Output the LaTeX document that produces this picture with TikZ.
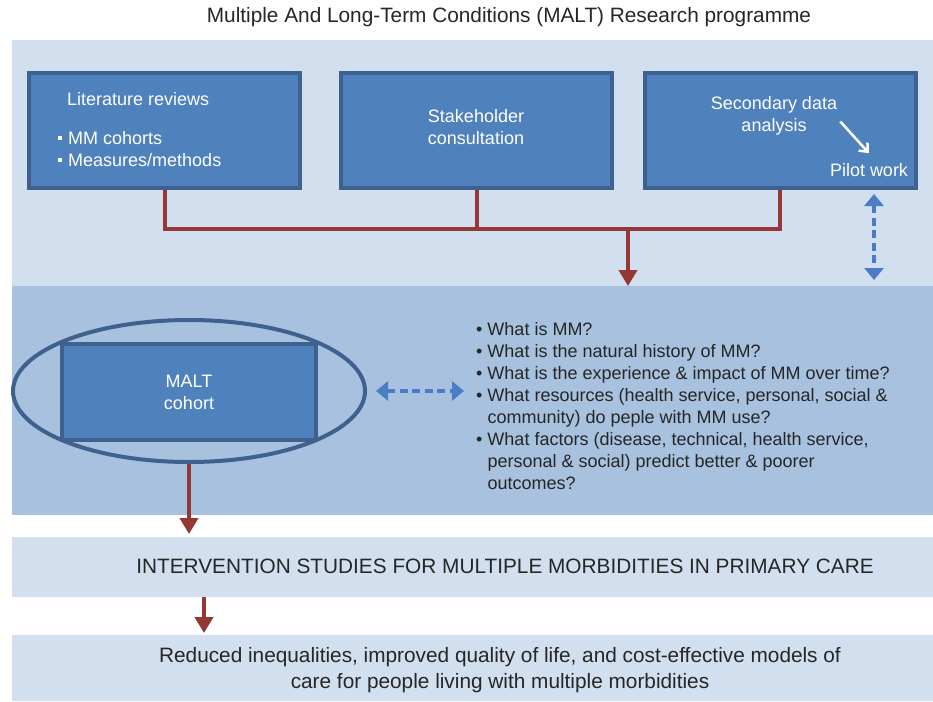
\documentclass[tikz,border=0pt]{standalone}
\usepackage{fontspec}
\setmainfont{Liberation Sans}
\usetikzlibrary{arrows.meta,positioning,shapes.geometric}
\definecolor{bandlight}{HTML}{D1DFEE}
\definecolor{bandmid}{HTML}{A8C1DE}
\definecolor{boxblue}{HTML}{4F81BD}
\definecolor{boxedge}{HTML}{3E6190}
\definecolor{linered}{HTML}{953735}
\definecolor{dashblue}{HTML}{4A7DC6}
\definecolor{inkgray}{HTML}{262626}
\newcommand{\sqbullet}{\raisebox{4pt}{\rule{4pt}{4pt}}\hspace{6pt}}
\tikzset{
    %Define standard font
    every node/.style={font=\fontsize{18}{22}\selectfont, text=inkgray},
    bigtext/.style={font=\fontsize{20.8}{26}\selectfont},
    %Define style for bands
    band/.style={
           rectangle,
           inner sep=0pt,
           minimum width=921pt,
           anchor=north west},
    %Define style for boxes
    box/.style={
           rectangle,
           fill=boxblue,
           draw=boxedge, line width=4pt,
           inner sep=0pt,
           minimum width=271pt,
           minimum height=115pt,
           text=white,
           align=center},
    %Define style for texts on boxes
    boxtext/.style={text=white, inner sep=0pt},
    % Define arrow styles
    redline/.style={draw=linered, line width=4pt},
    pil/.style={
           redline,
           -{Triangle[width=18pt,length=16pt]}},
    dashpil/.style={
           draw=dashblue,
           line width=4pt,
           dash pattern=on 8pt off 4.5pt,
           {Triangle[width=19pt,length=12pt]}-{Triangle[width=19pt,length=12pt]}},
    whitepil/.style={
           draw=white,
           line width=2.5pt,
           -{Straight Barb[length=7pt,width=12pt]}}
}

\begin{document}
\begin{tikzpicture}[x=1pt, y=-1pt]
\useasboundingbox (0,0) rectangle (933,701);
% title
\node[bigtext] (title) at (509,17) {Multiple And Long-Term Conditions (MALT) Research programme};

% bands
\node[band, fill=bandlight, minimum height=246pt] (top) at (12,40) {};
\node[band, fill=bandmid, minimum height=229pt] (mid) at (12,286) {};
\node[band, fill=bandlight, minimum height=60pt] (study) at (12,537) {};
\node[band, fill=bandlight, minimum height=66pt] (outcome) at (12,635) {};

% top boxes
\node[box] (lit) at (164.5,130.5) {};
\node[box] (stake) at (476.5,130.5) {};
\node[box] (sec) at (780,130.5) {};
\node[boxtext, anchor=west] (litTitle) at (67,99) {Literature reviews};
\node[boxtext, anchor=west, align=left] (litItems) at (58,149) {\sqbullet MM cohorts\\\sqbullet Measures/methods};
\node[boxtext, align=center] (stakeText) at (476,127) {Stakeholder\\consultation};
\node[boxtext, align=center] (secText) at (774,115.5) {Secondary data\\analysis};
\node[boxtext] (pilot) at (869,170) {Pilot work};
\draw[whitepil] ([shift={(3,6)}]secText.east) -- ([shift={(0,-10)}]pilot.north);

% merging connectors
\coordinate (merge) at (628,229);
\draw[redline] (lit.south) -- (lit.south |- merge) -- (sec.south |- merge) -- (sec.south);
\draw[redline] (stake.south) -- (stake.south |- merge);
\draw[pil] (merge) -- (merge |- mid.north);
\draw[dashpil, shorten <=4pt, shorten >=6pt] ([xshift=5pt]pilot.south |- sec.south) -- ([xshift=5pt]pilot.south |- mid.north);

% cohort
\node[ellipse, draw=boxedge, line width=4pt, inner sep=0pt,
      minimum width=352pt, minimum height=142pt] (ring) at (189,391) {};
\node[box, minimum width=254pt, minimum height=96pt] (cohort) at (189,392) {MALT\\cohort};
\node[anchor=north west, inner sep=0pt, align=left] (questions) at (476,322.5) {%
\textbullet\ What is MM?\\
\textbullet\ What is the natural history of MM?\\
\textbullet\ What is the experience \& impact of MM over time?\\
\textbullet\ What resources (health service, personal, social \&\\
\phantom{\textbullet\ }community) do peple with MM use?\\
\textbullet\ What factors (disease, technical, health service,\\
\phantom{\textbullet\ }personal \& social) predict better \& poorer\\
\phantom{\textbullet\ }outcomes?};
\draw[dashpil, shorten <=9pt, shorten >=12pt] (ring.east) -- (questions.west |- ring.east);

% outputs
\draw[pil] (ring.south) -- ([yshift=3pt]ring.south |- study.north);
\node[bigtext] (studyText) at (505,566) {INTERVENTION STUDIES FOR MULTIPLE MORBIDITIES IN PRIMARY CARE};
\coordinate (drop) at (204,0);
\draw[pil] (drop |- study.south) -- ([yshift=2pt]drop |- outcome.north);
\node[bigtext, align=center] (outcomeText) at (500,670) {Reduced inequalities, improved quality of life, and cost-effective models of\\care for people living with multiple morbidities};
\end{tikzpicture}
\end{document}
